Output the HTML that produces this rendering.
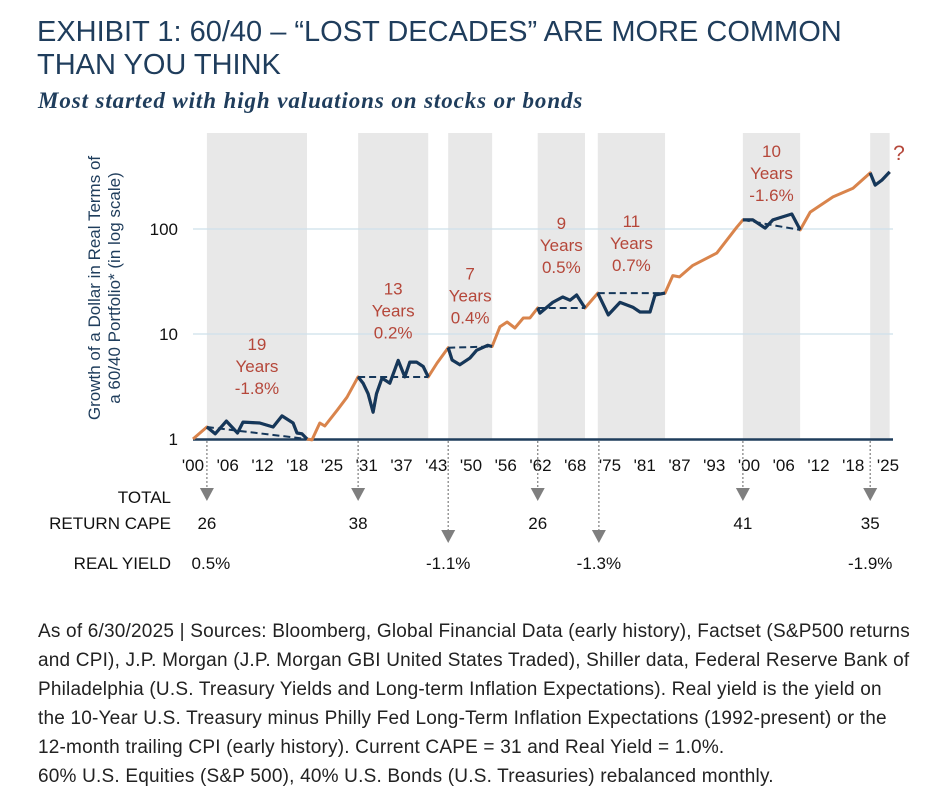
<!DOCTYPE html>
<html><head><meta charset="utf-8">
<style>
body{margin:0;background:#fff;width:944px;height:800px;overflow:hidden;font-family:"Liberation Sans Narrow","Liberation Sans",sans-serif;}
#title{position:absolute;left:37px;top:16px;font-size:29px;line-height:33px;color:#1f3d5c;font-weight:normal;}
#sub{position:absolute;left:38px;top:88px;font-family:"Liberation Serif",serif;font-style:italic;font-weight:bold;font-size:23px;letter-spacing:0.9px;color:#1f3d5c;}
#foot{position:absolute;left:38px;top:617px;font-size:19px;letter-spacing:0.2px;line-height:29px;color:#222;white-space:nowrap;}
svg{position:absolute;left:0;top:0;}
</style></head><body>
<div id="title">EXHIBIT 1: 60/40 – “LOST DECADES” ARE MORE COMMON<br>THAN YOU THINK</div>
<div id="sub">Most started with high valuations on stocks or bonds</div>
<svg id="chart" width="944" height="600"></svg>
<div id="foot">As of 6/30/2025 | Sources: Bloomberg, Global Financial Data (early history), Factset (S&amp;P500 returns<br>and CPI), J.P. Morgan (J.P. Morgan GBI United States Traded), Shiller data, Federal Reserve Bank of<br>Philadelphia (U.S. Treasury Yields and Long-term Inflation Expectations). Real yield is the yield on<br>the 10-Year U.S. Treasury minus Philly Fed Long-Term Inflation Expectations (1992-present) or the<br>12-month trailing CPI (early history). Current CAPE = 31 and Real Yield = 1.0%.<br>60% U.S. Equities (S&amp;P 500), 40% U.S. Bonds (U.S. Treasuries) rebalanced monthly.</div>
<script>
const years=[1900,1902.5,1904,1906,1908,1909,1912,1914.4,1916,1918,1918.7,1919.6,1920.5,1921.4,1922.8,1923.7,1926,1927.7,1929.7,1930.6,1931.5,1932.4,1933,1934,1935.4,1936.9,1938.1,1939,1940.2,1941.4,1942.3,1943.9,1945.9,1946.6,1948,1949.8,1951,1953,1953.8,1955.2,1956.5,1957.9,1959.4,1960.6,1962,1962.4,1964.7,1966.5,1967.8,1969,1970.5,1972.8,1974.7,1976.8,1979.1,1980.4,1982.2,1983.1,1984.9,1986.3,1987.5,1989.9,1994.2,1997.8,1998.9,2000.7,2002.9,2004.3,2007.7,2009.2,2011,2015.1,2018.7,2021.8,2022.7,2023.9,2025.3];
const values=[1,1.3,1.12,1.48,1.14,1.45,1.42,1.3,1.66,1.42,1.14,1.12,1.0,0.98,1.42,1.33,1.9,2.5,3.9,3.4,2.7,1.8,2.7,3.8,3.4,5.6,3.9,5.4,5.4,4.9,3.9,5.3,7.4,5.65,5.1,5.9,7.0,7.8,7.6,11.7,13,11.4,14.2,14.2,17.7,15.8,20,22.5,21,23.5,17.7,24.5,15.2,20,18,16.2,16.2,23.5,24.5,36,35,45,59,104,122,122,102,122,139,98,145,202,244,342,262,292,350];
const periodStart=[1902.5,1929.7,1945.9,1962,1972.8,1998.9,2021.8];
const periodEnd=[1920.5,1942.3,1953.8,1970.5,1984.9,2009.2,2025.3];
const periodYears=["19","13","7","9","11","10","?"];
const periodReturn=["-1.8%","0.2%","0.4%","0.5%","0.7%","-1.6%",""];
const yTicks=[1,10,100];
const xTickLabels=["'00","'06","'12","'18","'25","'31","'37","'43","'50","'56","'62","'68","'75","'81","'87","'93","'00","'06","'12","'18","'25"];
const capeYears=[1902.5,1929.7,1962,1998.9,2021.8];
const capeVals=["26","38","26","41","35"];
const yieldYears=[1902.5,1945.9,1973,2021.8];
const yieldVals=["0.5%","-1.1%","-1.3%","-1.9%"];

const svg=document.getElementById('chart');const NS='http://www.w3.org/2000/svg';
const X=y=>193+(y-1900)*5.56;
const Y=v=>439-105*Math.log10(v);
function el(t,a,p){const e=document.createElementNS(NS,t);for(const k in a)e.setAttribute(k,a[k]);(p||svg).appendChild(e);return e;}
function valAt(yr){for(let i=0;i<years.length-1;i++){if(yr>=years[i]&&yr<=years[i+1]){const t=(yr-years[i])/(years[i+1]-years[i]);return Math.pow(10,Math.log10(values[i])*(1-t)+Math.log10(values[i+1])*t);}}return values[values.length-1];}
function maxIn(a,b){let m=0;years.forEach((y,i)=>{if(y>=a&&y<=b)m=Math.max(m,values[i]);});return m;}
periodStart.forEach((s,i)=>{const r=el('rect',{x:X(s),y:133,width:X(periodEnd[i])-X(s),height:306,fill:'#e8e8e8'});

});
yTicks.forEach(v=>{if(v>1){const g=el('line',{x1:193,x2:893,y1:Y(v),y2:Y(v),stroke:'#cde0ea','stroke-width':1.2});

}
const t=el('text',{x:178,y:Y(v)+6,'text-anchor':'end','font-size':17,fill:'#111'});t.textContent=v;

});
const ax=el('line',{x1:193,x2:893,y1:439.5,y2:439.5,stroke:'#1f3d5c','stroke-width':2.5});


xTickLabels.forEach((l,i)=>{const t=el('text',{x:193+i*34.75,y:471,'text-anchor':'middle','font-size':17,fill:'#111'});t.textContent=l;

});
function pathFor(a,b){let d='';let first=true;const pts=[[a,valAt(a)]];years.forEach((y,i)=>{if(y>a&&y<b)pts.push([y,values[i]]);});pts.push([b,valAt(b)]);pts.forEach(p=>{d+=(first?'M':'L')+X(p[0]).toFixed(1)+','+Y(p[1]).toFixed(1);first=false;});return d;}
const o=el('path',{d:pathFor(1900,2025.3),fill:'none',stroke:'#d9844c','stroke-width':3,'stroke-linejoin':'round'});


periodStart.forEach((s,i)=>{const e=periodEnd[i];
const p=el('path',{d:pathFor(s,e),fill:'none',stroke:'#15375a','stroke-width':3.2,'stroke-linejoin':'round'});


if(i<6){const dl=el('line',{x1:X(s),y1:Y(valAt(s)),x2:X(e),y2:Y(valAt(e)),stroke:'#15375a','stroke-width':2,'stroke-dasharray':'7,4'});

}
const cx=(X(s)+X(e))/2;const top=Math.max(157,Y(maxIn(s,e))-66);
if(i==6){const q=el('text',{x:899,y:160,'text-anchor':'middle','font-size':21,fill:'#b5473a'});q.textContent='?';

}
else{const lbl=[periodYears[i],'Years',periodReturn[i]];lbl.forEach((t,j)=>{const tx=el('text',{x:cx,y:top+j*22,'text-anchor':'middle','font-size':17,fill:'#b5473a'});tx.textContent=t;

});}});
function arrow(yr,yEnd){const x=X(yr);el('line',{x1:x,x2:x,y1:441,y2:yEnd-12,stroke:'#888','stroke-width':1.3,'stroke-dasharray':'2,2'});
const a=el('polygon',{points:`${x-7},${yEnd-13} ${x+7},${yEnd-13} ${x},${yEnd}`,fill:'#7f7f7f'});

}
capeYears.forEach((yr,i)=>{arrow(yr,501);const t=el('text',{x:X(yr),y:529,'text-anchor':'middle','font-size':17,fill:'#111'});t.textContent=capeVals[i];

});
yieldYears.forEach((yr,i)=>{if(i>0&&capeYears.indexOf(yr)<0)arrow(yr,543);const t=el('text',{x:X(yr)+(i==0?4:0),y:569,'text-anchor':'middle','font-size':17,fill:'#111'});t.textContent=yieldVals[i];

});
[['TOTAL',503],['RETURN CAPE',529],['REAL YIELD',569]].forEach(r=>{const t=el('text',{x:171,y:r[1],'text-anchor':'end','font-size':17,fill:'#111'});t.textContent=r[0];

});
const g=el('g',{transform:'translate(100,288) rotate(-90)'});
['Growth of a Dollar in Real Terms of','a 60/40 Portfolio* (in log scale)'].forEach((s,j)=>{const t=el('text',{x:0,y:j*20,'text-anchor':'middle','font-size':17,fill:'#1f3d5c'},g);t.textContent=s;

});
</script>
</body></html>
